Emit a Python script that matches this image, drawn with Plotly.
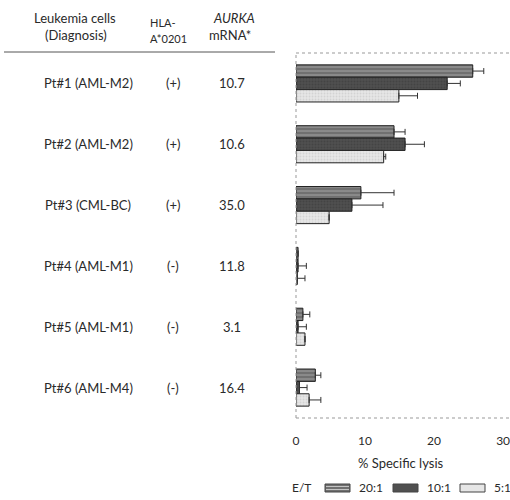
import plotly.graph_objects as go

patients = ["Pt#1 (AML-M2)", "Pt#2 (AML-M2)", "Pt#3 (CML-BC)",
            "Pt#4 (AML-M1)", "Pt#5 (AML-M1)", "Pt#6 (AML-M4)"]
hla = ["(+)", "(+)", "(+)", "(-)", "(-)", "(-)"]
aurka = ["10.7", "10.6", "35.0", "11.8", "3.1", "16.4"]

ratios = ["20:1", "10:1", "5:1"]
lysis_20 = [25.6, 14.2, 9.4, 0.3, 1.0, 2.8]
err_20 = [1.6, 1.6, 4.8, 0.0, 1.0, 0.8]
lysis_10 = [21.9, 15.8, 8.1, 0.3, 0.3, 0.5]
err_10 = [1.9, 2.8, 4.5, 1.2, 1.2, 1.1]
lysis_5 = [14.9, 12.7, 4.8, 0.2, 1.3, 1.9]
err_5 = [2.7, 0.3, 0.0, 1.1, 0.0, 1.7]

x_ticks = [0, 10, 20, 30]

FONT = "Lato, 'Noto Sans CJK SC', sans-serif"
TXT = "#2a2a2a"

W, H = 510, 500
L, R, T, B = 296, 0, 53, 82
pw = W - L - R
ph = H - T - B


def px_x(px):
    return (px - L) / pw


def px_y(py):
    return (H - B - py) / ph


styles = [
    dict(color="#707070", pattern=dict(shape="-", fgcolor="#c4c4c4", size=4, solidity=0.3)),
    dict(color="#505050", pattern=dict(shape=".", fgcolor="#383838", size=3, solidity=0.4)),
    dict(color="#e6e6e6", pattern=dict(shape=".", fgcolor="#c0c0c0", size=3, solidity=0.3)),
]
vals = [lysis_20, lysis_10, lysis_5]
errs = [err_20, err_10, err_5]

fig = go.Figure()
for name, v, e, st in zip(ratios, vals, errs, styles):
    fig.add_trace(go.Bar(
        y=patients, x=v, name=name, orientation="h",
        marker=dict(color=st["color"], pattern=st["pattern"],
                    line=dict(color="#222222", width=1)),
        error_x=dict(type="data", symmetric=False, array=e,
                     arrayminus=[0] * len(e), color="#333333",
                     thickness=1, width=3),
    ))

annotations = []
hdr = [
    ("Leukemia cells", 75, 18, 13, "center", False),
    ("(Diagnosis)", 76, 35, 13, "center", False),
    ("HLA-", 148, 22, 11, "left", False),
    ("A*0201", 148, 38, 11, "left", False),
    ("AURKA", 234, 18, 13, "center", True),
    ("mRNA*", 230, 35, 13, "center", False),
]
for text, x, y, size, align, ital in hdr:
    annotations.append(dict(
        text=f"<i>{text}</i>" if ital else text,
        x=px_x(x), y=px_y(y), xref="paper", yref="paper",
        xanchor=align, yanchor="middle", showarrow=False,
        font=dict(family=FONT, size=size, color=TXT)))

for p, h_, a in zip(patients, hla, aurka):
    for text, x in ((p, 88), (h_, 173), (a, 232)):
        annotations.append(dict(
            text=text, x=px_x(x), y=p, xref="paper", yref="y",
            xanchor="center", yanchor="middle", showarrow=False,
            font=dict(family=FONT, size=13, color=TXT)))

annotations.append(dict(
    text="% Specific lysis", x=px_x(401), y=px_y(463), xref="paper", yref="paper",
    xanchor="center", yanchor="middle", showarrow=False,
    font=dict(family=FONT, size=13, color=TXT)))

annotations.append(dict(
    text="E/T", x=px_x(290), y=px_y(488), xref="paper", yref="paper",
    xanchor="left", yanchor="middle", showarrow=False,
    font=dict(family=FONT, size=12, color=TXT)))

shapes = [
    dict(type="line", xref="paper", yref="paper", x0=px_x(4), x1=px_x(275),
         y0=px_y(52), y1=px_y(52), line=dict(color="#555555", width=1)),
    dict(type="line", xref="paper", yref="paper", x0=0, x1=1, y0=1, y1=1,
         line=dict(color="#999999", width=1, dash="dot")),
    dict(type="line", xref="paper", yref="paper", x0=0, x1=1, y0=0, y1=0,
         line=dict(color="#999999", width=1, dash="dot")),
    dict(type="line", xref="paper", yref="paper", x0=0, x1=0, y0=0, y1=1,
         line=dict(color="#999999", width=1, dash="dot")),
]

sw_x = [325, 393, 460]
for name, sx, st in zip(ratios, sw_x, styles):
    shapes.append(dict(type="rect", xref="paper", yref="paper",
                       x0=px_x(sx), x1=px_x(sx + 25), y0=px_y(492), y1=px_y(484),
                       fillcolor=st["color"], line=dict(color="#444444", width=1)))
    annotations.append(dict(
        text=name, x=px_x(sx + 32), y=px_y(488), xref="paper", yref="paper",
        xanchor="left", yanchor="middle", showarrow=False,
        font=dict(family=FONT, size=12, color=TXT)))
for yy in (486.5, 489.5):
    shapes.append(dict(type="line", xref="paper", yref="paper",
                       x0=px_x(326), x1=px_x(349), y0=px_y(yy), y1=px_y(yy),
                       line=dict(color="#c4c4c4", width=1)))

fig.update_layout(
    width=W, height=H,
    margin=dict(l=L, r=R, t=T, b=B, pad=0, autoexpand=False),
    paper_bgcolor="white", plot_bgcolor="white",
    barmode="group", bargap=0.39, bargroupgap=0,
    font=dict(family=FONT, size=12, color=TXT),
    xaxis=dict(range=[0, 31], tickvals=x_ticks, showgrid=False, zeroline=False,
               showline=False, ticks="", ticklabelstandoff=14,
               ticklabeloverflow="allow",
               tickfont=dict(family=FONT, size=12, color=TXT)),
    yaxis=dict(categoryorder="array", categoryarray=patients, autorange="reversed",
               showticklabels=False, showgrid=False, zeroline=False, showline=False,
               ticks=""),
    showlegend=False,
    annotations=annotations, shapes=shapes,
)

fig.write_html("out.html", config={"displayModeBar": False},
               post_script="document.body.style.margin='0';document.body.style.overflow='hidden';"
                           "document.documentElement.style.overflow='hidden';")
